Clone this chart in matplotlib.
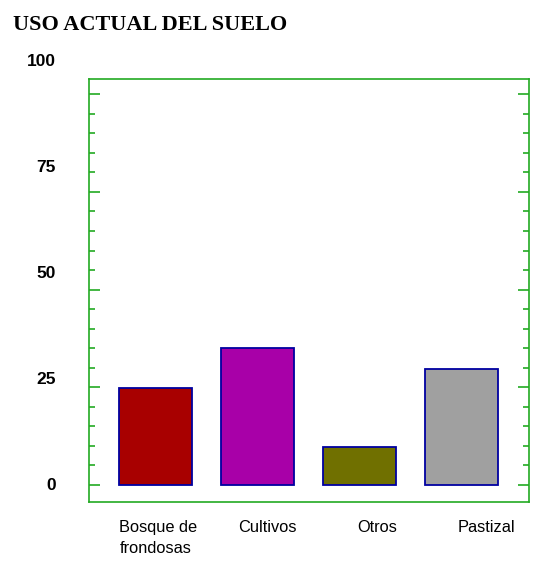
import matplotlib.pyplot as plt

# Land use data
categories = ["Bosque de\nfrondosas", "Cultivos", "Otros", "Pastizal"]
values = [24.8, 35.1, 9.7, 29.8]
bar_colors = ["#a80000", "#a800a8", "#707000", "#a0a0a0"]
y_ticks = [0, 25, 50, 75, 100]

fig = plt.figure(figsize=(5.34, 5.61), dpi=100)
ax = fig.add_axes([89 / 534, 59 / 561, 440 / 534, 423 / 561])

x = range(len(categories))
ax.bar(x, values, width=0.72, color=bar_colors, edgecolor="#0000a0", linewidth=1.3)

ax.set_xlim(-0.65, 3.66)
ax.set_ylim(-4.35, 103.9)

green = "#22aa22"
for s in ax.spines.values():
    s.set_color(green)
    s.set_linewidth(1.2)

ax.set_xticks([])
ax.set_yticks(y_ticks)
ax.set_yticks(range(0, 101, 5), minor=True)
ax.tick_params(axis="y", which="both", direction="in", left=True, right=True,
               labelleft=False, color=green, width=1.2)
ax.tick_params(axis="y", which="major", length=8)
ax.tick_params(axis="y", which="minor", length=4.5)

# tick labels sit a bit above their ticks in the original
ytrans = ax.get_yaxis_transform()
for v in y_ticks:
    ax.text(-0.075, v * 1.085, str(v), transform=ytrans, ha="right", va="center",
            fontsize=12.5, fontweight="bold", family="Liberation Sans", clip_on=False)

xtrans = ax.get_xaxis_transform()
for i, name in enumerate(categories):
    ax.text(i * 1.07 + 0.03, -0.043, name, transform=xtrans, ha="center", va="top",
            multialignment="left", fontsize=11.8, family="Liberation Sans",
            linespacing=1.5, clip_on=False)

fig.text(13 / 534, 1 - 30 / 561, "USO ACTUAL DEL SUELO", ha="left", va="baseline",
         fontsize=16, fontweight="bold", family="Liberation Serif")

fig.savefig("out.png", dpi=100)
